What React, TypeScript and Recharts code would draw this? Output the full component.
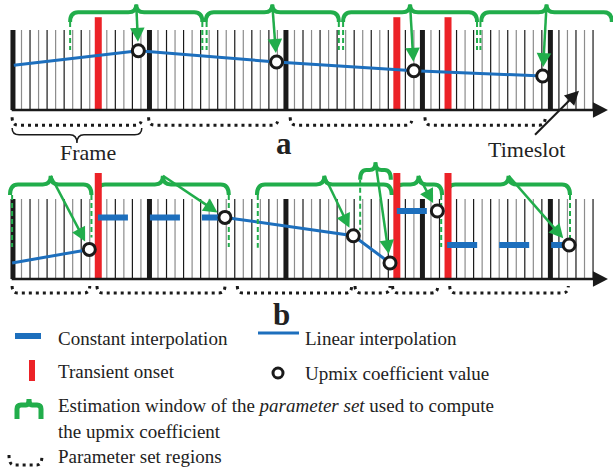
import React from 'react'
import { ComposedChart, XAxis, YAxis, Line, Scatter, ReferenceLine, ReferenceArea } from 'recharts'

const GREEN = '#21ad4b'
const BLUE = '#1d6fbd'
const RED = '#ec2227'
const INK = '#1a1a1a'
const SERIF = '"Liberation Serif", "Times New Roman", serif'

const SLOT_DOMAIN: [number, number] = [-1.52, 70.34]

// timeslot grid, shared by both panels
const SLOTS = Array.from({ length: 69 }, (_, i) => i)
const FRAME_EDGES = [0, 16, 32, 48, 63]
const TRANSIENTS = [10, 45, 51]

type Pt = { t: number; v: number }
type Win = { from: number; to: number; tier: number }
type Edge = { t: number; from: number; to: number }
type Span = { from: number; to: number }

// panel a
const A_COEFS: Pt[] = [
  { t: 14.7, v: 0.74 },
  { t: 30.9, v: 0.6 },
  { t: 47.0, v: 0.49 },
  { t: 62.1, v: 0.425 },
]
const A_LINEAR: Pt[][] = [[{ t: 0.1, v: 0.56 }, ...A_COEFS]]
const A_WINDOWS: Win[] = [
  { from: 6.7, to: 22.2, tier: 0 },
  { from: 22.6, to: 38.2, tier: 0 },
  { from: 38.7, to: 54.4, tier: 0 },
  { from: 54.9, to: 70.2, tier: 0 },
]
const A_EDGES: Edge[] = [
  { t: 6.7, from: 1.1, to: 0.75 },
  { t: 22.2, from: 1.1, to: 0.75 },
  { t: 22.7, from: 1.1, to: 0.75 },
  { t: 38.2, from: 1.1, to: 0.75 },
  { t: 38.7, from: 1.1, to: 0.75 },
  { t: 54.4, from: 1.1, to: 0.75 },
  { t: 54.8, from: 1.1, to: 0.75 },
]
const A_REGIONS: Span[] = [
  { from: -0.1, to: 15.1 },
  { from: 15.9, to: 31.1 },
  { from: 32.5, to: 46.8 },
  { from: 48.3, to: 62.4 },
]

// panel b
const B_COEFS: Pt[] = [
  { t: 8.95, v: 0.37 },
  { t: 24.85, v: 0.77 },
  { t: 39.9, v: 0.54 },
  { t: 44.2, v: 0.2 },
  { t: 49.75, v: 0.85 },
  { t: 65.2, v: 0.425 },
]
const B_LINEAR: Pt[][] = [
  [{ t: -0.1, v: 0.2 }, B_COEFS[0]],
  [B_COEFS[1], B_COEFS[2], B_COEFS[3]],
]
const B_CONSTANT: Pt[][] = [
  [{ t: 9.96, v: 0.77 }, B_COEFS[1]],
  [{ t: 45, v: 0.85 }, B_COEFS[4]],
  [{ t: 50.9, v: 0.425 }, B_COEFS[5]],
]
const B_WINDOWS: Win[] = [
  { from: -0.35, to: 9.2, tier: 0 },
  { from: 9.85, to: 25.3, tier: 0 },
  { from: 28.6, to: 44.4, tier: 0 },
  { from: 40.7, to: 44.3, tier: 1 },
  { from: 44.8, to: 50.3, tier: 0 },
  { from: 50.9, to: 65.3, tier: 0 },
]
const B_EDGES: Edge[] = [
  { t: -0.1, from: 1.05, to: 0.4 },
  { t: 9.2, from: 1.05, to: 0.52 },
  { t: 25.3, from: 1.05, to: 0.4 },
  { t: 28.7, from: 1.05, to: 0.39 },
  { t: 40.7, from: 1.24, to: 0.61 },
  { t: 50.2, from: 1.05, to: 0.4 },
  { t: 65.3, from: 1.05, to: 0.51 },
]
const B_REGIONS: Span[] = [
  { from: -0.1, to: 9.0 },
  { from: 9.85, to: 24.85 },
  { from: 26.3, to: 39.7 },
  { from: 40.1, to: 44.2 },
  { from: 44.5, to: 49.8 },
  { from: 51.2, to: 65.1 },
]

const ok = (...n: number[]) => n.every(Number.isFinite)

const braceUp = (p: any) => {
  const { x, y, width: w, height: h } = p
  if (!ok(x, y, w, h)) return <g />
  const yh = y + h * 0.45
  const ye = y + h
  const xc = x + w / 2
  const r = Math.min(8, w / 5)
  const d = `M${x},${ye} Q${x},${yh} ${x + r},${yh} L${xc - r},${yh} Q${xc},${yh} ${xc},${y} Q${xc},${yh} ${xc + r},${yh} L${x + w - r},${yh} Q${x + w},${yh} ${x + w},${ye}`
  return <path d={d} fill="none" stroke={GREEN} strokeWidth={4} />
}

const braceDown = (p: any) => {
  const { x, y, width: w, height: h } = p
  if (!ok(x, y, w, h)) return <g />
  const yh = y + h * 0.45
  const xc = x + w / 2
  const r = 7
  const d = `M${x},${y} Q${x},${yh} ${x + r},${yh} L${xc - r},${yh} Q${xc},${yh} ${xc},${y + h} Q${xc},${yh} ${xc + r},${yh} L${x + w - r},${yh} Q${x + w},${yh} ${x + w},${y}`
  return <path d={d} fill="none" stroke={INK} strokeWidth={1.5} />
}

const dotted = (p: any) => {
  const { x, y, width: w, height: h } = p
  if (!ok(x, y, w, h)) return <g />
  const d = `M${x},${y} Q${x},${y + h} ${x + 6},${y + h} L${x + w - 6},${y + h} Q${x + w},${y + h} ${x + w},${y}`
  return <path d={d} fill="none" stroke={INK} strokeWidth={3} strokeDasharray="3 4" />
}

const arrow = (color: string, width: number, head: number, shorten = 0) => (p: any) => {
  const { x1, y1, x2, y2 } = p
  if (!ok(x1, y1, x2, y2)) return <g />
  const a = Math.atan2(y2 - y1, x2 - x1)
  const c = Math.cos(a)
  const s = Math.sin(a)
  const tx = x2 - shorten * c
  const ty = y2 - shorten * s
  const bx = tx - head * c
  const by = ty - head * s
  const hw = head * 0.52
  return (
    <g>
      <line x1={x1} y1={y1} x2={bx + c} y2={by + s} stroke={color} strokeWidth={width} />
      <polygon points={`${tx},${ty} ${bx - s * hw},${by + c * hw} ${bx + s * hw},${by - c * hw}`} fill={color} />
    </g>
  )
}

const coefDot = (p: any) =>
  ok(p.cx, p.cy) ? <circle cx={p.cx} cy={p.cy} r={6} fill="#fff" stroke={INK} strokeWidth={3} /> : <g />

interface PanelCfg {
  linear: Pt[][]
  constant: Pt[][]
  coefs: Pt[]
  windows: Win[]
  edges: Edge[]
  regions: Span[]
  levels: { peak: number; end: number }[]
  redTop: number
  regionLine: number
  regionCurl: number
}

function panelItems(c: PanelCfg, key: string) {
  const items: React.ReactNode[] = []
  SLOTS.filter((s) => !FRAME_EDGES.includes(s)).forEach((s) =>
    items.push(
      <ReferenceLine key={`${key}g${s}`} segment={[{ x: s, y: 0 }, { x: s, y: 1 }]} stroke={s % 2 ? '#8c8c8c' : INK} strokeWidth={1.2} ifOverflow="visible" />
    )
  )
  FRAME_EDGES.forEach((s) =>
    items.push(
      <ReferenceLine key={`${key}f${s}`} segment={[{ x: s, y: 0 }, { x: s, y: 1 }]} stroke={INK} strokeWidth={5} ifOverflow="visible" />
    )
  )
  TRANSIENTS.forEach((s) =>
    items.push(
      <ReferenceLine key={`${key}r${s}`} segment={[{ x: s, y: 0 }, { x: s, y: c.redTop }]} stroke={RED} strokeWidth={7} ifOverflow="visible" />
    )
  )
  items.push(
    <ReferenceLine key={`${key}axis`} segment={[{ x: -0.15, y: 0 }, { x: 69.75, y: 0 }]} shape={arrow(INK, 2.5, 15)} ifOverflow="visible" />
  )
  c.linear.forEach((d, i) =>
    items.push(
      <Line key={`${key}l${i}`} data={d} dataKey="v" type="linear" stroke={BLUE} strokeWidth={3} dot={false} activeDot={false} isAnimationActive={false} />
    )
  )
  c.constant.forEach((d, i) =>
    items.push(
      <Line key={`${key}c${i}`} data={d} dataKey="v" type="linear" stroke={BLUE} strokeWidth={6} strokeDasharray="30 22" dot={false} activeDot={false} isAnimationActive={false} />
    )
  )
  c.windows.forEach((w, i) =>
    items.push(
      <ReferenceArea key={`${key}w${i}`} x1={w.from} x2={w.to} y1={c.levels[w.tier].end} y2={c.levels[w.tier].peak} shape={braceUp} ifOverflow="visible" />
    )
  )
  c.edges.forEach((e, i) =>
    items.push(
      <ReferenceLine key={`${key}e${i}`} segment={[{ x: e.t, y: e.from }, { x: e.t, y: e.to }]} stroke={GREEN} strokeWidth={2} strokeDasharray="5 3" ifOverflow="visible" />
    )
  )
  c.regions.forEach((r, i) =>
    items.push(
      <ReferenceArea key={`${key}p${i}`} x1={r.from} x2={r.to} y1={c.regionLine} y2={c.regionCurl} shape={dotted} ifOverflow="visible" />
    )
  )
  c.windows.forEach((w, i) =>
    items.push(
      <ReferenceLine
        key={`${key}a${i}`}
        segment={[{ x: (w.from + w.to) / 2, y: c.levels[w.tier].peak }, { x: c.coefs[i].t, y: c.coefs[i].v }]}
        shape={arrow(GREEN, 2.5, 14, 9)}
        ifOverflow="visible"
      />
    )
  )
  items.push(
    <Scatter key={`${key}dots`} data={c.coefs} dataKey="v" shape={coefDot} isAnimationActive={false} />
  )
  return items
}

const A_CFG: PanelCfg = {
  linear: A_LINEAR,
  constant: [],
  coefs: A_COEFS,
  windows: A_WINDOWS,
  edges: A_EDGES,
  regions: A_REGIONS,
  levels: [{ peak: 1.32, end: 1.1 }],
  redTop: 1.16,
  regionLine: -0.19,
  regionCurl: -0.09,
}

const B_CFG: PanelCfg = {
  linear: B_LINEAR,
  constant: B_CONSTANT,
  coefs: B_COEFS,
  windows: B_WINDOWS,
  edges: B_EDGES,
  regions: B_REGIONS,
  levels: [
    { peak: 1.29, end: 1.05 },
    { peak: 1.46, end: 1.24 },
  ],
  redTop: 1.325,
  regionLine: -0.175,
  regionCurl: -0.0875,
}

const axes = (domain: [number, number]) => [
  <XAxis key="x" type="number" dataKey="t" domain={SLOT_DOMAIN} allowDataOverflow hide />,
  <YAxis key="y" type="number" dataKey="v" domain={domain} allowDataOverflow hide />,
]

const textStyle = { fontFamily: SERIF, fill: '#222' }

export default function App() {
  return (
    <div style={{ position: 'absolute', left: 0, top: 0, width: 613, height: 469, background: '#fff', overflow: 'hidden' }}>
      <div style={{ position: 'absolute', left: 0, top: 0 }}>
        <ComposedChart width={613} height={170} margin={{ top: 0, right: 0, bottom: 0, left: 0 }}>
          {axes([-0.75, 1.375])}
          {panelItems(A_CFG, 'a')}
          <ReferenceArea x1={-0.1} x2={15.1} y1={-0.225} y2={-0.4125} shape={braceDown} ifOverflow="visible" />
          <ReferenceLine segment={[{ x: 61.2, y: -0.31 }, { x: 66.35, y: 0.24 }]} shape={arrow(INK, 2, 14)} ifOverflow="visible" />
        </ComposedChart>
      </div>
      <div style={{ position: 'absolute', left: 0, top: 155 }}>
        <ComposedChart width={613} height={170} margin={{ top: 0, right: 0, bottom: 0, left: 0 }}>
          {axes([-0.575, 1.55])}
          {panelItems(B_CFG, 'b')}
        </ComposedChart>
      </div>
      <svg width={613} height={469} style={{ position: 'absolute', left: 0, top: 0, pointerEvents: 'none' }}>
        <text x={60} y={160} fontSize={22} {...textStyle}>Frame</text>
        <text x={276} y={154} fontSize={31} fontWeight="bold" {...textStyle}>a</text>
        <text x={488} y={157} fontSize={22} {...textStyle}>Timeslot</text>
        <text x={273} y={325} fontSize={31} fontWeight="bold" {...textStyle}>b</text>

        <rect x={15} y={333} width={26} height={6} fill={BLUE} />
        <text x={58} y={345} fontSize={19} {...textStyle}>Constant interpolation</text>
        <line x1={258} y1={333} x2={299} y2={333} stroke={BLUE} strokeWidth={3} />
        <text x={305} y={345} fontSize={19} {...textStyle}>Linear interpolation</text>

        <rect x={29} y={360} width={6} height={21} fill={RED} />
        <text x={58} y={378} fontSize={19} {...textStyle}>Transient onset</text>
        <circle cx={278} cy={373} r={5} fill="#fff" stroke={INK} strokeWidth={3} />
        <text x={305} y={380} fontSize={19} {...textStyle}>Upmix coefficient value</text>

        <path d="M17,419 L17,409 Q17,405 21,405 L26,405 Q29,405 29,399 Q29,405 32,405 L37,405 Q41,405 41,409 L41,419" fill="none" stroke={GREEN} strokeWidth={5} />
        <text x={58} y={412} fontSize={19} {...textStyle}>
          Estimation window of the <tspan fontStyle="italic">parameter set</tspan> used to compute
        </text>
        <text x={58} y={438} fontSize={19} {...textStyle}>the upmix coefficient</text>

        <path d="M9,455 Q9,465 14,465 L37,465 Q42,465 42,455" fill="none" stroke={INK} strokeWidth={3} strokeDasharray="3 4" />
        <text x={58} y={463} fontSize={19} {...textStyle}>Parameter set regions</text>
      </svg>
    </div>
  )
}
